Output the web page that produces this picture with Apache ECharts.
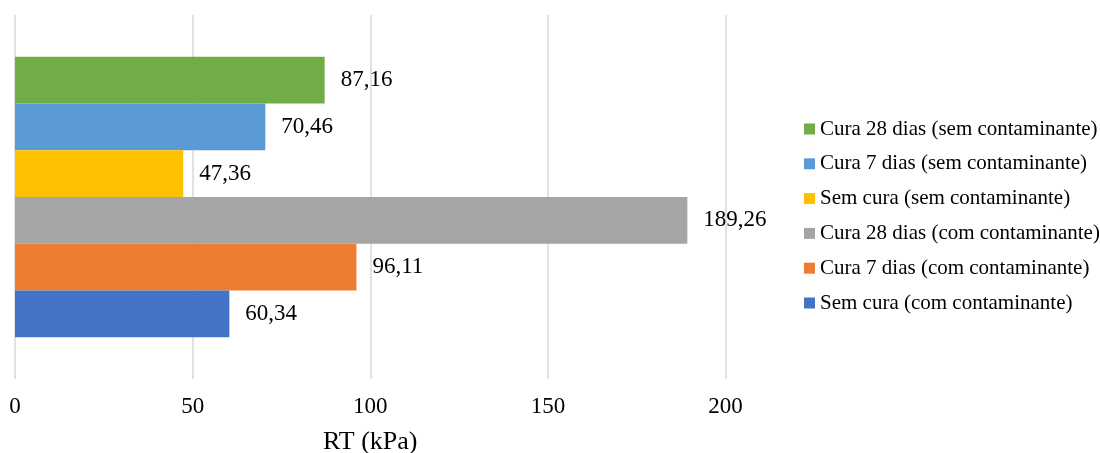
<!DOCTYPE html>
<html>
<head>
<meta charset="utf-8">
<script src="https://cdn.jsdelivr.net/npm/echarts@6/dist/echarts.min.js"></script>
<style>
html,body{margin:0;padding:0;background:#fff;}
#chart{width:1100px;height:453px;}
</style>
</head>
<body>
<div id="chart"></div>
<script>
// Data (series listed top-to-bottom, as drawn and as in the legend)
const seriesNames = [
  'Cura 28 dias (sem contaminante)',
  'Cura 7 dias (sem contaminante)',
  'Sem cura (sem contaminante)',
  'Cura 28 dias (com contaminante)',
  'Cura 7 dias (com contaminante)',
  'Sem cura (com contaminante)'
];
const seriesValues = [87.16, 70.46, 47.36, 189.26, 96.11, 60.34];
const seriesColors = ['#70AD47', '#5B9BD5', '#FFC000', '#A5A5A5', '#ED7D31', '#4472C4'];
const categories = [''];
const xTicks = [0, 50, 100, 150, 200];
const xTitle = 'RT (kPa)';

const FONT = '"Liberation Serif", "Times New Roman", serif';

const chart = echarts.init(document.getElementById('chart'));
const series = seriesNames.map((name, i) => ({
  name: name,
  type: 'bar',
  data: [seriesValues[i]],
  itemStyle: { color: seriesColors[i] },
  barGap: '0%',
  barCategoryGap: '23%',
  label: {
    show: true,
    position: 'right',
    distance: 16,
    fontFamily: FONT,
    fontSize: 23,
    color: '#000',
    formatter: p => p.value.toFixed(2).replace('.', ',')
  }
}));

chart.setOption({
  animation: false,
  backgroundColor: '#fff',
  grid: { left: 15, right: 374.5, top: 15, bottom: 74, containLabel: false, outerBoundsMode: 'none' },
  xAxis: {
    type: 'value',
    min: xTicks[0],
    max: xTicks[xTicks.length - 1],
    interval: xTicks[1] - xTicks[0],
    axisLine: { show: false },
    axisTick: { show: false },
    splitLine: { show: true, lineStyle: { color: '#d9d9d9', width: 1.5 } },
    axisLabel: { fontFamily: FONT, fontSize: 23, color: '#000', margin: 16 },
    name: xTitle,
    nameLocation: 'middle',
    nameGap: 50,
    nameTextStyle: { fontFamily: FONT, fontSize: 26, color: '#000' }
  },
  yAxis: {
    type: 'category',
    data: categories,
    axisLine: { show: false },
    axisTick: { show: false },
    axisLabel: { show: false },
    splitLine: { show: false }
  },
  legend: {
    orient: 'vertical',
    left: 799,
    top: 112,
    icon: 'rect',
    itemWidth: 11,
    itemHeight: 11,
    itemGap: 10.8,
    data: seriesNames.slice(),
    textStyle: { fontFamily: FONT, fontSize: 21, color: '#000', lineHeight: 24 }
  },
  series: series
});
</script>
</body>
</html>
